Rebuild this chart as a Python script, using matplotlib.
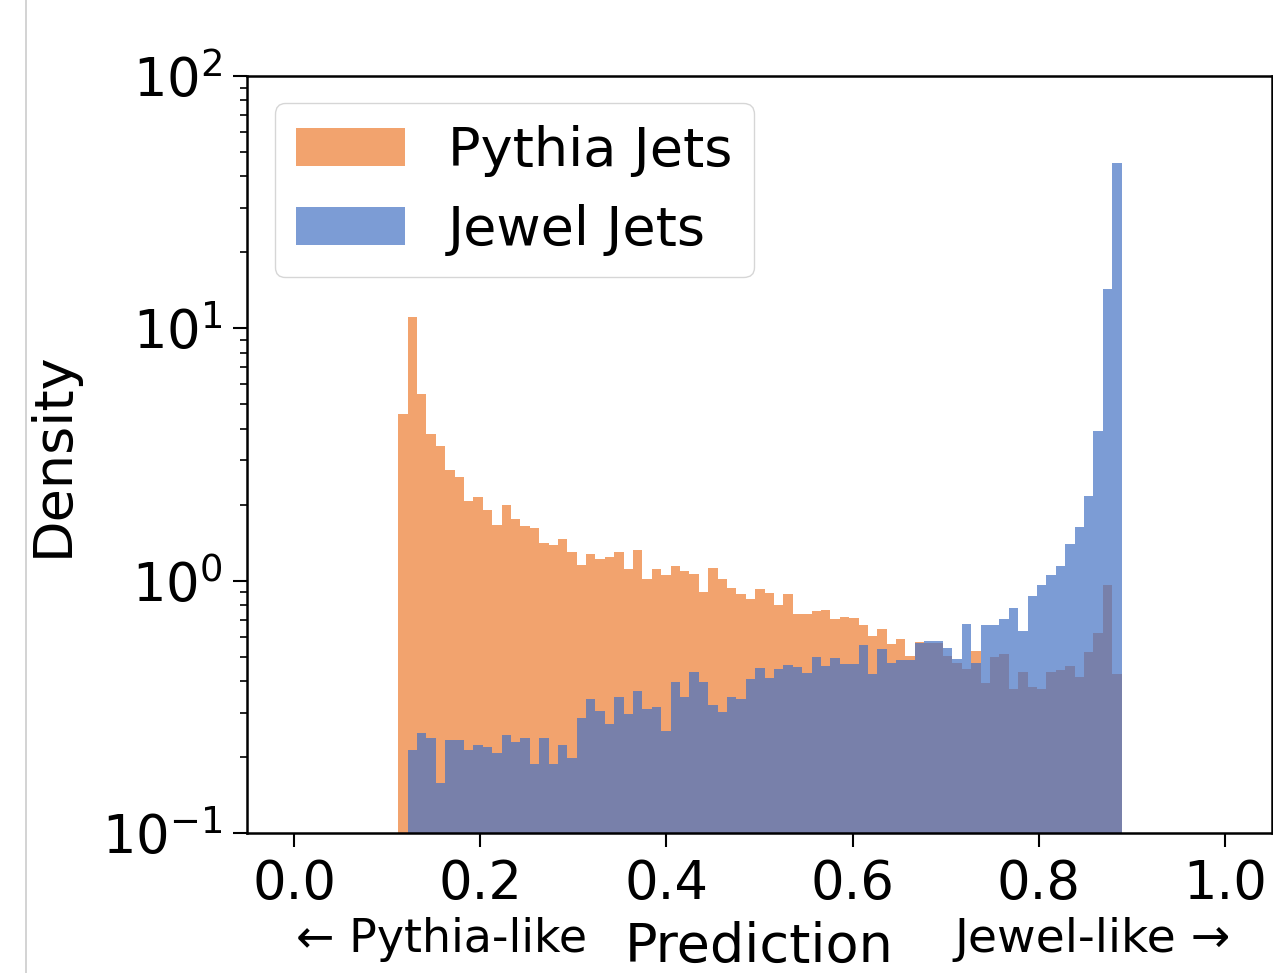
import numpy as np
import matplotlib
matplotlib.use('Agg')
import matplotlib.pyplot as plt
from matplotlib.lines import Line2D

# bin range of the prediction histogram (77 equal bins)
bin_lo, bin_hi, n_bins = 0.1119, 0.8887, 77

# density per bin
pythia_density = [
    4.57, 11.13, 5.50, 3.80, 3.43, 2.75, 2.57, 2.06, 2.15, 1.91,
    1.66, 2.00, 1.76, 1.65, 1.61, 1.41, 1.39, 1.46, 1.30, 1.154,
    1.28, 1.216, 1.245, 1.299, 1.113, 1.327, 1.016, 1.113, 1.05, 1.141,
    1.09, 1.063, 0.905, 1.126, 1.013, 0.938, 0.886, 0.846, 0.924, 0.891,
    0.799, 0.883, 0.736, 0.738, 0.760, 0.765, 0.705, 0.716, 0.710, 0.666,
    0.602, 0.645, 0.561, 0.589, 0.502, 0.571, 0.568, 0.568, 0.503, 0.471,
    0.447, 0.526, 0.394, 0.498, 0.511, 0.371, 0.435, 0.379, 0.371, 0.435,
    0.444, 0.459, 0.415, 0.523, 0.622, 0.959, 0.427,
]
jewel_density = [
    0.0, 0.213, 0.248, 0.239, 0.158, 0.234, 0.234, 0.213, 0.223, 0.219,
    0.208, 0.244, 0.229, 0.239, 0.188, 0.239, 0.188, 0.223, 0.198, 0.286,
    0.341, 0.305, 0.270, 0.346, 0.295, 0.366, 0.310, 0.316, 0.254, 0.397,
    0.346, 0.433, 0.397, 0.321, 0.301, 0.346, 0.340, 0.408, 0.452, 0.413,
    0.447, 0.463, 0.454, 0.432, 0.500, 0.459, 0.495, 0.469, 0.469, 0.556,
    0.428, 0.536, 0.473, 0.485, 0.485, 0.566, 0.575, 0.575, 0.540, 0.488,
    0.672, 0.472, 0.667, 0.667, 0.707, 0.777, 0.632, 0.872, 0.962, 1.05,
    1.147, 1.398, 1.637, 2.17, 3.92, 14.3, 45.1,
]

edges = np.linspace(bin_lo, bin_hi, n_bins + 1)
centers = 0.5 * (edges[:-1] + edges[1:])

plt.rcParams['font.family'] = ['DejaVu Sans']
fig = plt.figure(figsize=(12.73, 9.73), dpi=100)
ax = fig.add_axes([0.1944, 0.1439, 0.8046, 0.778])

ax.hist(centers, bins=edges, weights=pythia_density, color='#ED7D31',
        alpha=0.7, label='Pythia Jets', log=True)
ax.hist(centers, bins=edges, weights=jewel_density, color='#4472C4',
        alpha=0.7, label='Jewel Jets', log=True)

ax.set_xlim(-0.05, 1.05)
ax.set_ylim(0.1, 100)
ax.set_xticks([0.0, 0.2, 0.4, 0.6, 0.8, 1.0])
ax.tick_params(axis='both', which='major', labelsize=38, length=10, width=1.5, pad=8)
ax.tick_params(axis='y', which='minor', length=5, width=1.2)
for s in ax.spines.values():
    s.set_linewidth(1.8)

ax.set_ylabel('Density', fontsize=39, labelpad=17)
ax.set_xlabel('Prediction', fontsize=39, labelpad=8)
ax.text(0.158, -0.141, '\u2190 Pythia-like', transform=ax.get_xaxis_transform(),
        fontsize=33, ha='center', va='center')
ax.text(0.858, -0.141, 'Jewel-like \u2192', transform=ax.get_xaxis_transform(),
        fontsize=34, ha='center', va='center')

ax.legend(loc='upper left', fontsize=39)

# thin page border on the left of the crop
fig.add_artist(Line2D([26 / 1273, 26 / 1273], [0, 1], color='#cccccc', lw=1.2))

plt.savefig('out.png', dpi=100)
